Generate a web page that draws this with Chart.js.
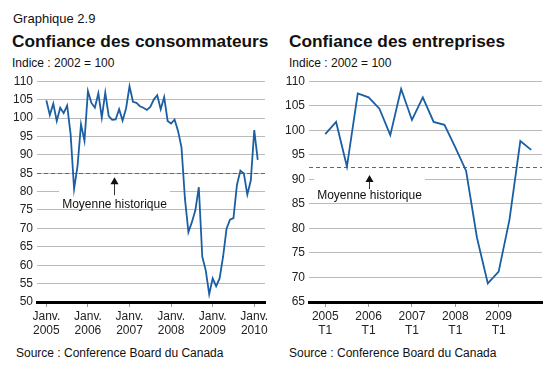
<!DOCTYPE html>
<html>
<head>
<meta charset="utf-8">
<script src="https://cdn.jsdelivr.net/npm/chart.js@4.4.1/dist/chart.umd.min.js"></script>
<style>
  body { margin: 0; width: 560px; height: 368px; background: #fff; position: relative; overflow: hidden;
         font-family: "Liberation Sans", Arial, sans-serif; color: #111; }
  .t { position: absolute; white-space: nowrap; line-height: 1; }
  .num { font-size: 13px; left: 13px; top: 12px; }
  .title { font-size: 17.3px; font-weight: bold; top: 33px; }
  .unit { font-size: 12px; top: 57px; }
  .src { font-size: 12px; top: 347px; }
  .box { position: absolute; top: 70px; width: 280px; height: 270px; }
</style>
</head>
<body>
<div class="t num">Graphique 2.9</div>
<div class="t title" style="left:12px">Confiance des consommateurs</div>
<div class="t unit" style="left:12px">Indice : 2002 = 100</div>
<div class="t title" style="left:289px">Confiance des entreprises</div>
<div class="t unit" style="left:289px">Indice : 2002 = 100</div>
<div class="box" style="left:0"><canvas id="consumerChart"></canvas></div>
<div class="box" style="left:280px"><canvas id="businessChart"></canvas></div>
<div class="t src" style="left:16px">Source : Conference Board du Canada</div>
<div class="t src" style="left:289px">Source : Conference Board du Canada</div>

<script>
// Consumer confidence, monthly, Jan 2005 - Feb 2010
const consumerValues = [
  104.8, 100.8, 103.9, 99.2, 102.8, 101.3, 103.4, 95.6, 80.7, 87.0, 98.3, 93.8,
  107.3, 104.1, 102.8, 106.7, 100.1, 106.9, 100.5, 99.5, 99.6, 102.4, 99.3, 102.6,
  108.6, 104.4, 104.1, 103.2, 102.8, 102.2, 103.0, 105.0, 106.2, 102.4, 105.7, 99.2,
  98.5, 99.6, 96.5, 92.0, 78.0, 69.0, 71.7, 74.9, 81.2, 62.3, 58.6, 52.1,
  56.4, 54.3, 56.4, 62.3, 69.9, 72.4, 72.8, 81.8, 85.7, 84.9, 79.2, 83.0,
  96.7, 88.6
];
const consumerTicks = [0, 12, 24, 36, 48, 60];
const consumerTickLabels = [
  ['Janv.', '2005'], ['Janv.', '2006'], ['Janv.', '2007'],
  ['Janv.', '2008'], ['Janv.', '2009'], ['Janv.', '2010']
];
const consumerAverage = 85;

// Business confidence, quarterly, 2005 T1 - 2009 T4
const businessValues = [
  99.2, 101.7, 92.6, 107.5,
  106.7, 104.4, 99.0, 108.4,
  102.1, 106.7, 101.7, 101.1,
  96.5, 91.7, 78.1, 68.8,
  71.2, 81.8, 97.8, 96.0
];
const businessTicks = [0, 4, 8, 12, 16];
const businessTickLabels = [
  ['2005', 'T1'], ['2006', 'T1'], ['2007', 'T1'], ['2008', 'T1'], ['2009', 'T1']
];
const businessAverage = 92.5;

const FONT = '"Liberation Sans", Arial, sans-serif';

// dashed historical average + "Moyenne historique" label with arrow
const averagePlugin = {
  id: 'average',
  beforeDatasetsDraw(chart, args, opts) {
    const { ctx, chartArea, scales } = chart;
    const y = scales.y.getPixelForValue(opts.value);
    const ax = Math.round(scales.x.getPixelForValue(opts.arrowAt)) + 0.5;
    ctx.save();
    ctx.font = '12px ' + FONT;
    const w = ctx.measureText(opts.label).width + 6;
    ctx.fillStyle = '#fff';
    ctx.fillRect(ax - w / 2, y + opts.boxTop, w, opts.boxHeight);

    ctx.strokeStyle = '#666';
    ctx.lineWidth = 1;
    ctx.setLineDash([4, 3]);
    ctx.beginPath();
    ctx.moveTo(chartArea.left, Math.round(y) + 0.5);
    ctx.lineTo(chartArea.right, Math.round(y) + 0.5);
    ctx.stroke();
    ctx.setLineDash([]);

    // arrow
    ctx.strokeStyle = '#333';
    ctx.fillStyle = '#111';
    ctx.beginPath();
    ctx.moveTo(ax, y + opts.tip + 5);
    ctx.lineTo(ax, y + opts.shaftEnd);
    ctx.stroke();
    ctx.beginPath();
    ctx.moveTo(ax, y + opts.tip);
    ctx.lineTo(ax - 4, y + opts.tip + 7);
    ctx.lineTo(ax + 4, y + opts.tip + 7);
    ctx.closePath();
    ctx.fill();

    ctx.fillStyle = '#111';
    ctx.textAlign = 'center';
    ctx.textBaseline = 'middle';
    ctx.fillText(opts.label, ax, y + opts.labelAt);
    ctx.restore();
  }
};

function makeChart(id, values, ticks, tickLabels, yMin, xMin, xMax, yWidth, padRight, avgOpts) {
  return new Chart(document.getElementById(id), {
    type: 'line',
    data: {
      datasets: [{
        data: values.map((v, i) => ({ x: i, y: v })),
        borderColor: '#1a5fa3',
        borderWidth: 1.8,
        pointRadius: 0,
        tension: 0,
        fill: false
      }]
    },
    options: {
      responsive: true,
      maintainAspectRatio: false,
      animation: false,
      layout: { padding: { top: 10, right: padRight, left: 0, bottom: 0 } },
      plugins: {
        legend: { display: false },
        tooltip: { enabled: false },
        average: avgOpts
      },
      scales: {
        x: {
          type: 'linear',
          min: xMin,
          max: xMax,
          afterBuildTicks: (scale) => { scale.ticks = ticks.map(v => ({ value: v })); },
          afterFit: (scale) => { scale.height = 38; },
          ticks: {
            autoSkip: false,
            maxRotation: 0,
            padding: 3,
            color: '#222',
            font: { family: FONT, size: 12, lineHeight: 1.15 },
            callback: (value, index) => tickLabels[index]
          },
          grid: { drawOnChartArea: false, drawTicks: true, tickLength: 5, tickColor: '#999' },
          border: { color: '#000', width: 3 }
        },
        y: {
          min: yMin,
          max: 110,
          afterFit: (scale) => { scale.width = yWidth; },
          ticks: { stepSize: 5, padding: 4, color: '#222', font: { family: FONT, size: 12 } },
          grid: { color: '#bbbbbb', lineWidth: 1, drawTicks: false },
          border: { display: false }
        }
      }
    },
    plugins: [averagePlugin]
  });
}

makeChart('consumerChart', consumerValues, consumerTicks, consumerTickLabels,
  50, -2.7, 63.1, 37, 15,
  { value: consumerAverage, arrowAt: 19.4, label: 'Moyenne historique',
    tip: 4, shaftEnd: 22, labelAt: 31, boxTop: 7, boxHeight: 28 });

makeChart('businessChart', businessValues, businessTicks, businessTickLabels,
  65, -1.5, 20, 29, 18,
  { value: businessAverage, arrowAt: 4, label: 'Moyenne historique',
    tip: 8, shaftEnd: 22, labelAt: 29, boxTop: 9, boxHeight: 26 });
</script>
</body>
</html>
